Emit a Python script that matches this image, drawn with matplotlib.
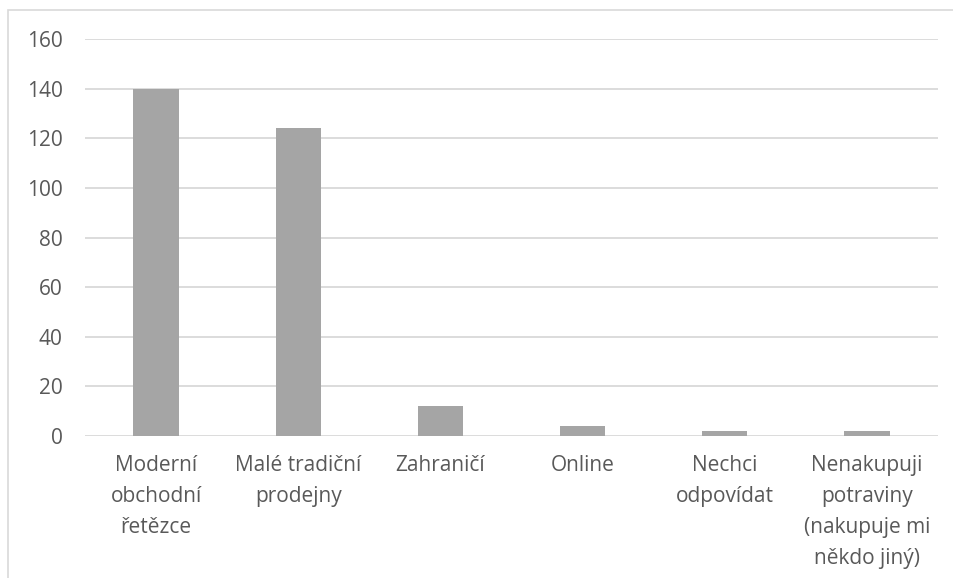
import matplotlib
matplotlib.use("Agg")
import matplotlib.pyplot as plt
from matplotlib.patches import Rectangle

categories = ["Moderní\nobchodní\nřetězce", "Malé tradiční\nprodejny", "Zahraničí", "Online",
              "Nechci\nodpovídat", "Nenakupuji\npotraviny\n(nakupuje mi\nněkdo jiný)"]
values = [140, 124, 12, 4, 2, 2]
yticks = [0, 20, 40, 60, 80, 100, 120, 140, 160]

plt.rcParams['font.family'] = ['Open Sans', 'DejaVu Sans']
W, H = 954, 578
fig = plt.figure(figsize=(W/100, H/100), dpi=100)
ax = fig.add_axes([85/W, 1-436/H, (938-85)/W, (436-39)/H])

x = range(len(categories))
ax.bar(x, values, width=0.32, color="#a5a5a5", zorder=3)
ax.set_xlim(-0.5, len(categories)-0.5)
ax.set_ylim(0, 160)
ax.set_yticks(yticks)
ax.set_yticklabels([str(v) for v in yticks])
ax.yaxis.grid(True, color="#d9d9d9", linewidth=1.3, zorder=0)
for s in ax.spines.values():
    s.set_visible(False)
ax.tick_params(axis='both', length=0, colors="#595959")
ax.tick_params(axis='y', pad=16, labelsize=15)
ax.tick_params(axis='x', pad=14, labelsize=15)
ax.set_xticks(list(x))
ax.set_xticklabels(categories, linespacing=1.62, va='top')
for t in ax.get_xticklabels():
    t.set_ha('center')

fig.patches.append(Rectangle((8/W, -0.1), (W-8)/W, 1-10/H+0.1, transform=fig.transFigure,
                             fill=False, edgecolor="#d9d9d9", linewidth=1.2))
fig.savefig("out.png", dpi=100)
